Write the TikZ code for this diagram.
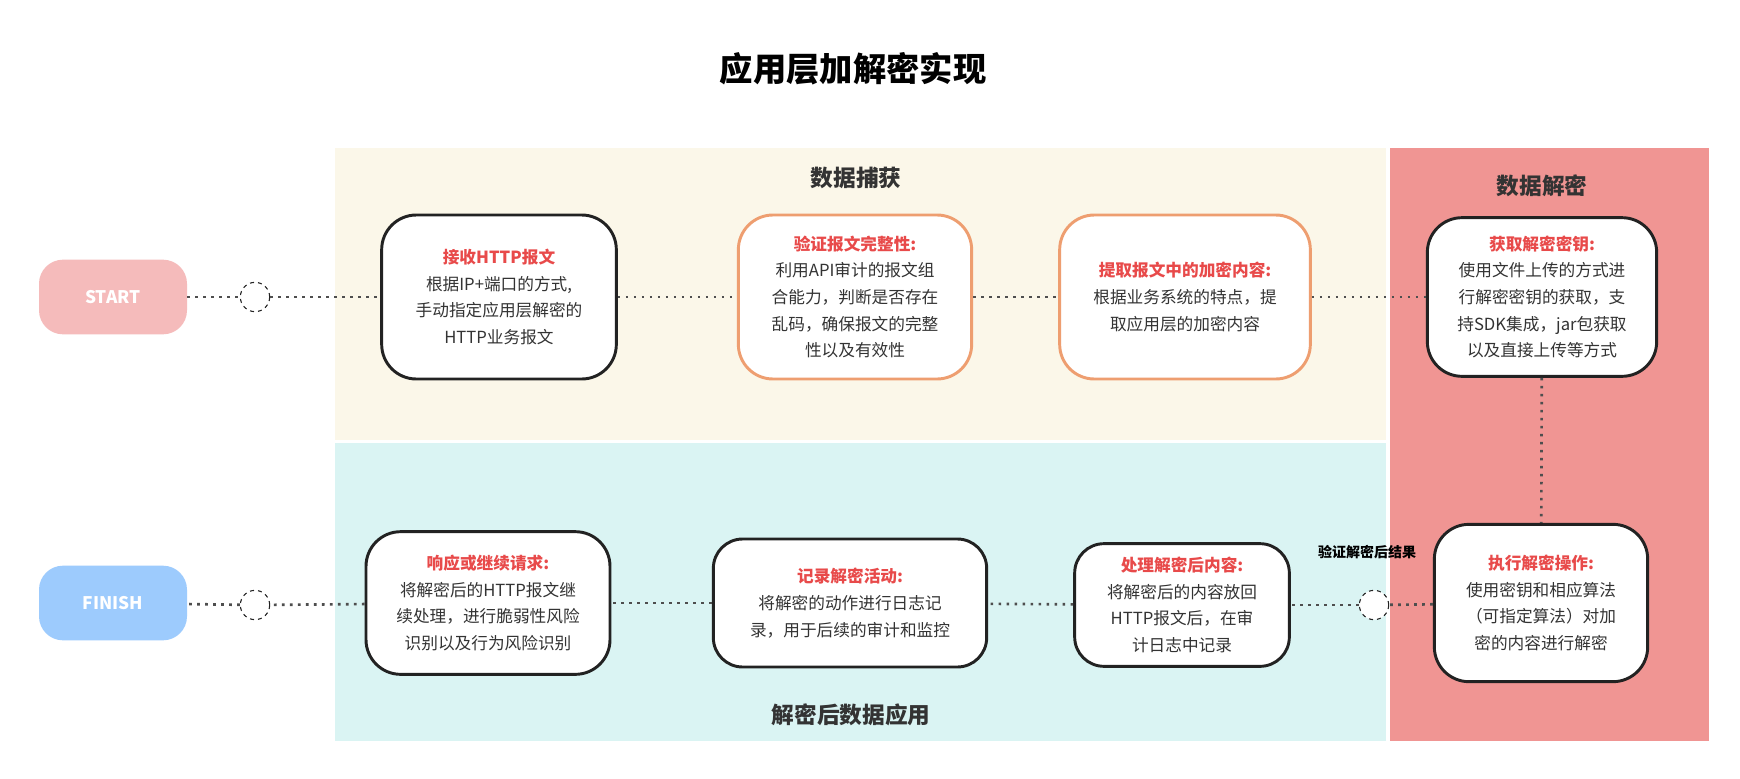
\documentclass[tikz,border=0pt]{standalone}
\usepackage{fontspec}
\setmainfont{Noto Sans CJK SC}
\usetikzlibrary{positioning}
\definecolor{txt}{HTML}{333333}
\definecolor{rtl}{HTML}{E84A4A}
\definecolor{ylw}{HTML}{FBF7E9}
\definecolor{cyn}{HTML}{DAF4F3}
\definecolor{rpn}{HTML}{F09593}
\definecolor{stc}{HTML}{F5BBBB}
\definecolor{fnc}{HTML}{9DCBFD}
\definecolor{org}{HTML}{EE9E70}
\definecolor{dk}{HTML}{222222}
\newcommand\hdx[1]{\textcolor{rtl}{\bfseries #1}}
\tikzset{
 card/.style={draw=dk,line width=2.2pt,fill=white,rounded corners=26pt,align=center,text=txt,font=\fontsize{12.5}{20}\selectfont,inner sep=0pt},
 ocard/.style={card,draw=org},
 pill/.style={rounded corners=18pt,text=white,font=\bfseries\fontsize{13}{15}\selectfont,minimum width=111pt,minimum height=56pt,inner sep=0},
 hole/.style={circle,draw=dk,dashed,fill=white,minimum size=22pt,inner sep=0,line width=0.8pt},
 link/.style={draw=dk!80,line width=2pt,dash pattern=on 2pt off 4pt},
 ptitle/.style={font=\bfseries\fontsize{17}{20}\selectfont,text=txt}
}
\begin{document}
\begin{tikzpicture}[x=0.75pt,y=-0.75pt]
\useasboundingbox[fill=white] (0,0) rectangle (1740,778);
\fill[ylw] (335,148) rectangle (1386,440);
\fill[cyn] (335,443) rectangle (1386,741);
\fill[rpn] (1390,148) rectangle (1709,741);
\node[font=\bfseries\fontsize{25}{28}\selectfont] (title) at (853,69) {应用层加解密实现};
\node[ptitle] (p1) at (856,178) {数据捕获};
\node[ptitle] (p2) at (1542,186) {数据解密};
\node[ptitle] (p3) at (851,715) {解密后数据应用};

\node[pill,fill=stc] (start) at (113,297) {START};
\node[pill,fill=fnc] (finish) at (113,603) {FINISH};
\node[hole] (h1) at (255,297) {};
\node[hole] (h2) at (255,605) {};
\node[hole] (h3) at (1374,605) {};

\node[card,minimum width=176pt,minimum height=123pt] (n1) at (499,297) {\hdx{接收HTTP报文}\\根据IP+端口的方式,\\手动指定应用层解密的\\HTTP业务报文};
\node[ocard,minimum width=175pt,minimum height=123pt] (n2) at (855,297) {\hdx{验证报文完整性:}\\利用API审计的报文组\\合能力，判断是否存在\\乱码，确保报文的完整\\性以及有效性};
\node[ocard,minimum width=188pt,minimum height=123pt] (n3) at (1185,297) {\hdx{提取报文中的加密内容:}\\根据业务系统的特点，提\\取应用层的加密内容};
\node[card,minimum width=172pt,minimum height=119pt] (n4) at (1542,297) {\hdx{获取解密密钥:}\\使用文件上传的方式进\\行解密密钥的获取，支\\持SDK集成，jar包获取\\以及直接上传等方式};
\node[card,minimum width=160pt,minimum height=118pt] (n5) at (1541,603) {\hdx{执行解密操作:}\\使用密钥和相应算法\\（可指定算法）对加\\密的内容进行解密};
\node[card,minimum width=161pt,minimum height=92pt,rounded corners=22pt] (n6) at (1182,605) {\hdx{处理解密后内容:}\\将解密后的内容放回\\HTTP报文后，在审\\计日志中记录};
\node[card,minimum width=205pt,minimum height=96pt,rounded corners=22pt] (n7) at (850,603) {\hdx{记录解密活动:}\\将解密的动作进行日志记\\录，用于后续的审计和监控};
\node[card,minimum width=183pt,minimum height=107pt] (n8) at (488,603) {\hdx{响应或继续请求:}\\将解密后的HTTP报文继\\续处理，进行脆弱性风险\\识别以及行为风险识别};
\node[font=\bfseries\fontsize{10.5}{12}\selectfont] (lab) at (1367,552) {验证解密后结果};

\draw[link] (start) -- (h1);
\draw[link] (h1) -- (n1);
\draw[link] (n1) -- (n2);
\draw[link] (n2) -- (n3);
\draw[link] (n3) -- (n4);
\draw[link] (n4) -- (n5);
\draw[link] (n5) -- (h3);
\draw[link] (h3) -- (n6);
\draw[link] (n6) -- (n7);
\draw[link] (n7) -- (n8);
\draw[link] (n8) -- (h2);
\draw[link] (h2) -- (finish);
\end{tikzpicture}
\end{document}
